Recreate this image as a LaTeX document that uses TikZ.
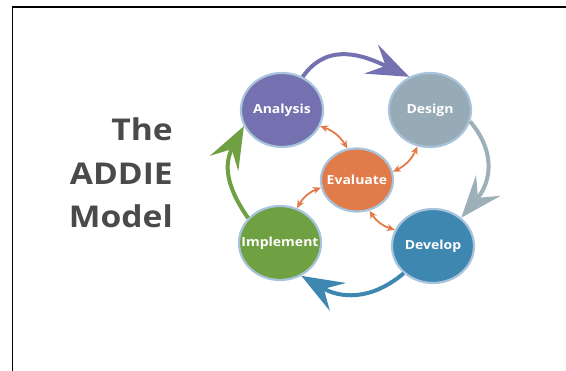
\documentclass[tikz,border=0pt]{standalone}
\usepackage{fontspec}
\setmainfont{Open Sans}[FakeStretch=1.12]
\usepackage{tikz}
\usetikzlibrary{positioning,arrows.meta,shapes.geometric}

\definecolor{anacol}{RGB}{117,113,176}
\definecolor{descol}{RGB}{150,171,182}
\definecolor{devcol}{RGB}{62,135,176}
\definecolor{impcol}{RGB}{111,160,66}
\definecolor{evacol}{RGB}{226,123,74}
\definecolor{rimcol}{RGB}{168,195,220}
\definecolor{desarc}{RGB}{157,176,185}
\definecolor{titlecol}{RGB}{74,74,74}

\begin{document}
\begin{tikzpicture}[x=1pt, y=1pt, on grid,
    phase/.style={ellipse, draw=rimcol, line width=2.2pt, minimum width=82pt, minimum height=74pt, inner sep=0pt},
    every label/.style={text=white, font=\fontsize{12.5}{14}\selectfont\bfseries},
    loopedge/.style={line width=4pt, -{Stealth[length=42pt, width=32pt, inset=16pt]}},
    twoway/.style={draw=evacol, line width=1.8pt, {Stealth[length=8pt, width=7pt]}-{Stealth[length=8pt, width=7pt]}}]
  \useasboundingbox (0,0) rectangle (566,371);
  \draw[line width=1.3pt] (12.5,0) |- (566,364);

  \node[anchor=east, align=right, inner sep=0pt, text=titlecol, font=\fontsize{30}{43.5}\selectfont\bfseries] (title) at (173,198) {The\\ADDIE\\Model};

  % evaluation in the middle, the four phases round it
  \node[phase, fill=evacol, minimum width=72pt, minimum height=63pt, label=center:Evaluate] (eval) at (357,191) {};
  \node[phase, fill=anacol, label=center:Analysis, above left=70pt and 75pt of eval] (ana) {};
  \node[phase, fill=descol, label=center:Design, above right=70pt and 73pt of eval] (des) {};
  \node[phase, fill=devcol, label=center:Develop, below right=66pt and 76pt of eval] (dev) {};
  \node[phase, fill=impcol, label=center:Implement, below left=63pt and 77pt of eval] (imp) {};

  % outer cycle
  \draw[loopedge, draw=anacol] (ana.58) to[out=55, in=155, looseness=1.1] (des.122);
  \draw[loopedge, draw=desarc] (des.-16) to[out=-50, in=50, looseness=1.15] (dev.45);
  \draw[loopedge, draw=devcol] (dev.-137) to[out=-140, in=-30, looseness=1.1] (imp.-57);
  \draw[loopedge, draw=impcol] (imp.142) to[out=125, in=-118, looseness=1.15] (ana.-157);

  % feedback to and from evaluation
  \draw[twoway] (eval.107) to[bend right=20] (ana.-23);
  \draw[twoway] (eval.13) to[bend right=20] (des.-109);
  \draw[twoway] (eval.192) to[bend right=20] (imp.64);
  \draw[twoway] (eval.-68) to[bend right=20] (dev.157);
\end{tikzpicture}
\end{document}
